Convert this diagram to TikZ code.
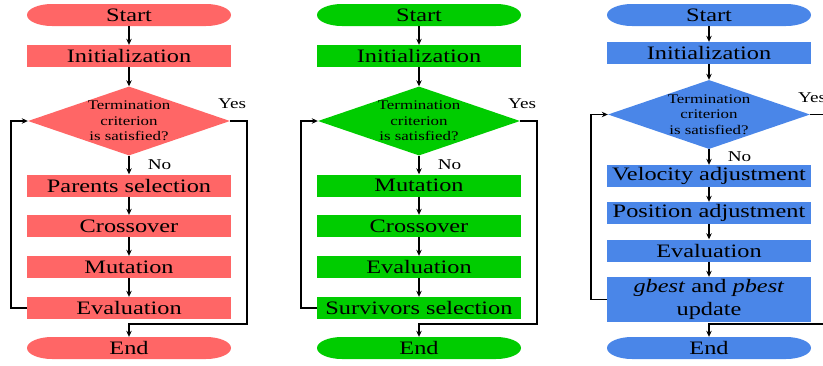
\documentclass[tikz,border=0pt]{standalone}
\usepackage{fontspec}
\setmainfont{Liberation Serif}[FakeStretch=1.28]
\usetikzlibrary{positioning, shapes.geometric, arrows.meta}
\definecolor{gaColor}{RGB}{255,102,102}
\definecolor{deColor}{RGB}{0,204,0}
\definecolor{psoColor}{RGB}{74,134,232}
\tikzstyle{chart} = [x = 1pt, y = -1pt]
\tikzstyle{terminal} = [rectangle, minimum width = 204pt, minimum height = 22pt, inner sep = 0pt, font = \fontsize{19}{22}\selectfont]
\tikzstyle{stepBox} = [rectangle, minimum width = 204pt, minimum height = 22pt, inner sep = 0pt, align = center, font = \fontsize{19}{23}\selectfont]
\tikzstyle{decision} = [diamond, minimum width = 202pt, minimum height = 69pt, inner sep = 0pt]
\tikzstyle{decisionText} = [inner sep = 0pt, align = center, font = \fontsize{13.2}{15.5}\selectfont]
\tikzstyle{branchText} = [inner sep = 0pt, font = \fontsize{15}{18}\selectfont]
\tikzstyle{flowLine} = [line width = 1.6pt, -{Stealth[length = 6pt, width = 5.5pt]}]
\newcommand{\terminalNode}[4]{\fill [#3, shift = {#2}] (-77pt,11pt) -- (77pt,11pt) arc [start angle = 90, end angle = -90, x radius = 25pt, y radius = 11pt] -- (-77pt,-11pt) arc [start angle = 270, end angle = 90, x radius = 25pt, y radius = 11pt] -- cycle;
  \node [terminal] (#1) at #2 {#4};}
\newcommand{\termination}[3]{\node [decision, fill = #3, label = {[decisionText]center:Termination\\criterion\\is satisfied?}] (#1) at #2 {};}
\newcommand{\backLoop}[2]{\draw [flowLine] (#1.west) -- ++(-16,0) |- (#2.west);}
\newcommand{\yesPath}[3]{\draw [flowLine] (#1.east) -- ++(17,0) |- (#2) -- (#3);
  \node [branchText] (yes#1) at ([shift = {(2pt,17pt)}]#1.east) {Yes};}

\begin{document}
\begin{tikzpicture}[chart]
  \useasboundingbox (0,0) rectangle (823,365);
  \clip (0,0) rectangle (823,365);

  \terminalNode{startGa}{(129,15)}{gaColor}{Start}
  \node [stepBox, fill = gaColor] (initGa) at (129,56) {Initialization};
  \termination{diaGa}{(129,121)}{gaColor}
  \node [stepBox, fill = gaColor] (parentsGa) at (129,185.5) {Parents selection};
  \node [stepBox, fill = gaColor] (crossGa) at (129,226) {Crossover};
  \node [stepBox, fill = gaColor] (mutGa) at (129,267) {Mutation};
  \node [stepBox, fill = gaColor] (evalGa) at (129,308) {Evaluation};
  \terminalNode{endGa}{(129,348)}{gaColor}{End}
  \coordinate (joinGa) at (129,324);

  \terminalNode{startDe}{(419,15)}{deColor}{Start}
  \node [stepBox, fill = deColor] (initDe) at (419,56) {Initialization};
  \termination{diaDe}{(419,121)}{deColor}
  \node [stepBox, fill = deColor] (mutDe) at (419,185.5) {Mutation};
  \node [stepBox, fill = deColor] (crossDe) at (419,226) {Crossover};
  \node [stepBox, fill = deColor] (evalDe) at (419,267) {Evaluation};
  \node [stepBox, fill = deColor] (survDe) at (419,308) {Survivors selection};
  \terminalNode{endDe}{(419,348)}{deColor}{End}
  \coordinate (joinDe) at (419,324);

  \terminalNode{startPso}{(709,15)}{psoColor}{Start}
  \node [stepBox, fill = psoColor] (initPso) at (709,53) {Initialization};
  \termination{diaPso}{(709,114.5)}{psoColor}
  \node [stepBox, fill = psoColor] (velPso) at (709,176) {Velocity adjustment};
  \node [stepBox, fill = psoColor] (posPso) at (709,213) {Position adjustment};
  \node [stepBox, fill = psoColor] (evalPso) at (709,250.5) {Evaluation};
  \node [stepBox, fill = psoColor, minimum height = 45pt] (bestPso) at (709,299.5) {\textit{gbest} and \textit{pbest}\\update};
  \terminalNode{endPso}{(709,348)}{psoColor}{End}
  \coordinate (joinPso) at (709,324);

  \foreach \from/\to in {startGa/initGa, initGa/diaGa, parentsGa/crossGa, crossGa/mutGa, mutGa/evalGa,
    startDe/initDe, initDe/diaDe, mutDe/crossDe, crossDe/evalDe, evalDe/survDe,
    startPso/initPso, initPso/diaPso, velPso/posPso, posPso/evalPso, evalPso/bestPso}
    \draw [flowLine] (\from) -- (\to);

  \draw [flowLine] (diaGa) -- node [branchText, right = 18pt] {No} (parentsGa);
  \draw [flowLine] (diaDe) -- node [branchText, right = 18pt] {No} (mutDe);
  \draw [flowLine] (diaPso) -- node [branchText, right = 18pt] {No} (velPso);

  \backLoop{evalGa}{diaGa}
  \backLoop{survDe}{diaDe}
  \backLoop{bestPso}{diaPso}
  \yesPath{diaGa}{joinGa}{endGa}
  \yesPath{diaDe}{joinDe}{endDe}
  \yesPath{diaPso}{joinPso}{endPso}
\end{tikzpicture}
\end{document}
